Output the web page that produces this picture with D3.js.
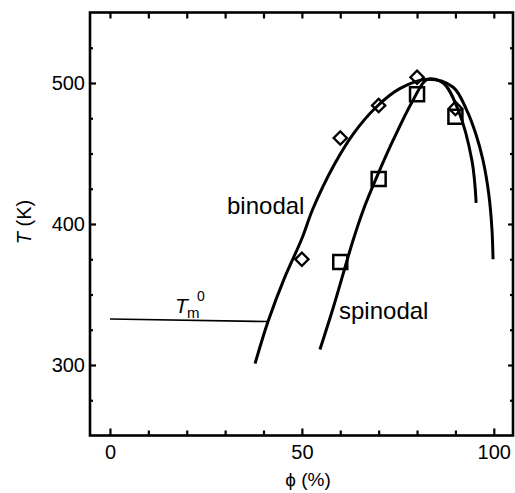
<!DOCTYPE html>
<meta charset="utf-8">
<style>
body { margin: 0; background: #fff; }
text { font-family: "Liberation Sans", Arial, sans-serif; fill: #000; }
</style>
<body>
<svg id="chart" width="515" height="493"></svg>
</body>
<script src="https://cdn.jsdelivr.net/npm/d3@7"></script>
<script>

// binodal / spinodal curves (phi %, T K)
var binodal = [[37.8,301],[41.2,331],[45.5,362],[49.9,389],[52.9,411],[58.2,441],[63.4,464],[69.4,483],
  [75.5,496],[82.9,502.6],[89.4,497],[92.9,481],[95.3,464],[97.2,445],[98.7,421],[99.5,397],[99.8,375]];
var spinodal = [[54.7,311],[58.2,341],[63.4,389],[66,410],[69.3,432],[73.8,459.6],[79,488],[82.6,502.4],
  [86.8,500],[90.7,481],[94.3,445],[95.4,415]];
var diamonds = [[50,375],[60,461],[70,484],[80,504],[90,482]];
var squares = [[60,373],[70,432],[80,492],[90,476]];
var tmLine = [[0,332.6],[41.2,330.8]];
var xMajor = [0,50,100];
var xMinor = [10,20,30,40,60,70,80,90];
var yMajor = [300,400,500];
var yMinor = [275,325,350,375,425,450,475,525];

var svg = d3.select("#chart"),
    pLeft = 90, pRight = 513, pTop = 12.5, pBottom = 435.5;

var x = d3.scaleLinear().domain([-5.2, 105]).range([pLeft, pRight]);
var y = d3.scaleLinear().domain([250, 550]).range([pBottom, pTop]);

// ticks, all pointing inward
function tickAxis(axis, pos, vals, size, labels) {
  var g = svg.append("g")
      .attr("transform", pos)
      .call(axis.tickValues(vals).tickSize(-size).tickPadding(labels ? 9.5 : 0)
        .tickFormat(labels ? d3.format("d") : ""));
  g.attr("font-size", null).attr("font-family", null);
  g.select(".domain").remove();
  g.selectAll("line").attr("stroke", "#000").attr("stroke-width", 2.2);
  g.selectAll("text").style("font-size", "20px");
  return g;
}
tickAxis(d3.axisBottom(x), "translate(0," + pBottom + ")", xMajor, 7, true);
tickAxis(d3.axisBottom(x), "translate(0," + pBottom + ")", xMinor, 5, false);
tickAxis(d3.axisTop(x), "translate(0," + pTop + ")", xMajor.concat(xMinor), 6, false);
var yl = tickAxis(d3.axisLeft(y), "translate(" + pLeft + ",0)", yMajor, 6, true);
yl.selectAll("text").attr("x", -5);
tickAxis(d3.axisLeft(y), "translate(" + pLeft + ",0)", yMinor, 3, false);
tickAxis(d3.axisRight(y), "translate(" + pRight + ",0)", yMajor, 5, false);
tickAxis(d3.axisRight(y), "translate(" + pRight + ",0)", yMinor, 3, false);

svg.append("rect")
    .attr("x", pLeft).attr("y", pTop)
    .attr("width", pRight - pLeft).attr("height", pBottom - pTop)
    .attr("fill", "none").attr("stroke", "#000").attr("stroke-width", 2.6);

var line = d3.line()
    .x(function(d) { return x(d[0]); })
    .y(function(d) { return y(d[1]); })
    .curve(d3.curveCatmullRom);

svg.append("path").datum(binodal).attr("d", line)
    .attr("fill", "none").attr("stroke", "#000").attr("stroke-width", 3);
svg.append("path").datum(spinodal).attr("d", line)
    .attr("fill", "none").attr("stroke", "#000").attr("stroke-width", 3);
svg.append("path").datum(tmLine).attr("d", d3.line().x(function(d) { return x(d[0]); }).y(function(d) { return y(d[1]); }))
    .attr("fill", "none").attr("stroke", "#000").attr("stroke-width", 1.6);

svg.selectAll(".dia").data(diamonds).enter().append("path")
    .attr("class", "dia")
    .attr("d", d3.symbol().type(d3.symbolSquare).size(88))
    .attr("transform", function(d) { return "translate(" + x(d[0]) + "," + y(d[1]) + ") rotate(45)"; })
    .attr("fill", "none").attr("stroke", "#000").attr("stroke-width", 2.3);

svg.selectAll(".sq").data(squares).enter().append("path")
    .attr("class", "sq")
    .attr("d", d3.symbol().type(d3.symbolSquare).size(196))
    .attr("transform", function(d) { return "translate(" + x(d[0]) + "," + y(d[1]) + ")"; })
    .attr("fill", "none").attr("stroke", "#000").attr("stroke-width", 2.5);

// labels
svg.append("text").attr("x", 227).attr("y", 214).style("font-size", "24px").text("binodal");
svg.append("text").attr("x", 339).attr("y", 319).style("font-size", "24px").text("spinodal");

var tm = svg.append("text").attr("x", 175).attr("y", 313).style("font-size", "21px");
tm.append("tspan").style("font-style", "italic").text("T");
tm.append("tspan").attr("x", 187).attr("y", 318).style("font-size", "15px").text("m");
tm.append("tspan").attr("x", 197).attr("y", 301).style("font-size", "14px").text("0");

svg.append("text").attr("x", 308).attr("y", 486).attr("text-anchor", "middle")
    .style("font-size", "19px").text("\u03D5 (%)");

var yt = svg.append("text")
    .attr("transform", "translate(31,222) rotate(-90)")
    .attr("text-anchor", "middle").style("font-size", "20px");
yt.append("tspan").style("font-style", "italic").text("T");
yt.append("tspan").text(" (K)");

</script>
